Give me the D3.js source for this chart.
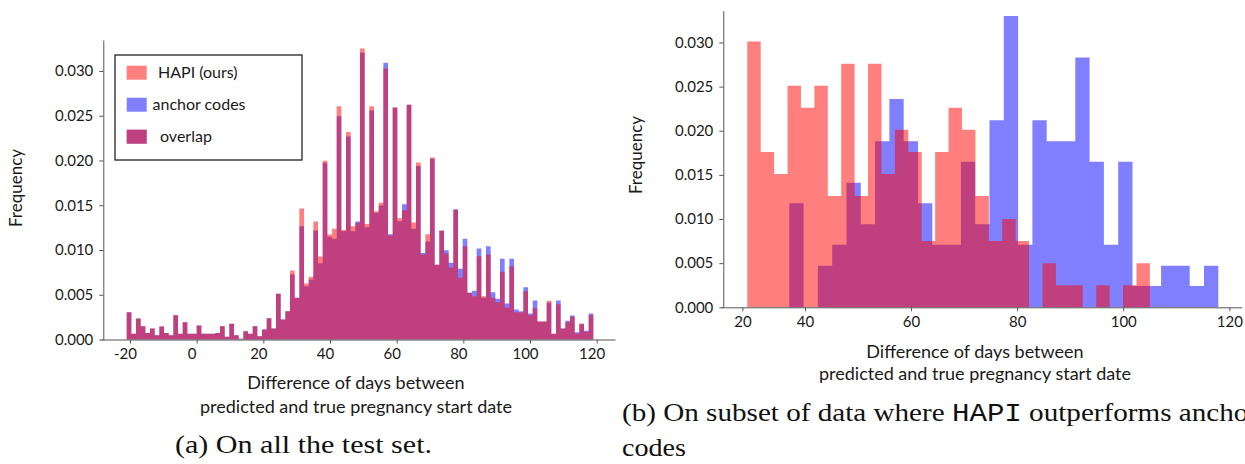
<!DOCTYPE html>
<html><head><meta charset="utf-8">
<script src="https://cdn.jsdelivr.net/npm/d3@7"></script>
<style>
body{margin:0;background:#fff;}
svg{display:block;}
.sans text, text.sans{font-family:Lato,"Open Sans",sans-serif;fill:#1a1a1a;}
.cap{font-family:"Liberation Serif","DejaVu Serif",serif;fill:#111;}
.mono{font-family:"Liberation Mono","DejaVu Sans Mono",monospace;}
</style></head><body>
<svg id="chart" width="1245" height="464"></svg>
<script>
// ---------------- DATA (frequencies in thousandths) ----------------
// Panel (a): 100 bins of 1.4 days starting at -21
const binStartA = -21, binWidthA = 1.4;
const hapiA = [3.05,0.63,2.35,1.49,0.74,1.23,0.48,1.45,0.74,0.48,
  2.72,0.63,1.94,0.63,0.63,1.56,0.63,0.63,0.63,0.74,
  1.49,0.30,1.75,0.48,0.07,0.93,0.63,1.49,0.37,1.12,
  2.38,1.23,5.10,2.23,3.17,7.71,4.66,14.64,6.26,7.00,
  13.18,9.27,19.96,11.73,12.37,26.07,12.22,23.17,12.66,13.04,
  32.51,12.89,26.07,14.34,15.27,30.28,11.62,25.92,13.56,14.45,
  26.22,13.07,19.78,9.50,11.77,20.34,8.34,12.18,9.61,8.01,
  14.53,6.89,10.43,5.21,4.84,9.31,4.84,9.50,4.66,4.17,
  7.56,3.54,8.19,3.05,3.05,5.40,2.72,3.50,2.05,2.05,
  4.32,0.63,3.95,1.23,1.94,2.53,0.67,1.79,0.86,2.72];
const anchorA = [3.05,0.63,2.35,1.49,0.74,1.23,0.48,1.45,0.74,0.48,
  2.72,0.63,1.94,0.63,0.63,1.56,0.63,0.63,0.63,0.74,
  1.49,0.30,1.75,0.48,0.07,0.93,0.63,1.49,0.37,1.12,
  2.38,1.23,5.10,2.23,3.17,7.26,4.66,12.66,5.96,6.70,
  12.18,8.53,19.74,11.47,11.25,24.95,12.10,22.68,12.10,13.18,
  32.03,12.55,25.59,14.15,14.97,30.91,11.77,25.92,13.22,15.12,
  26.22,12.37,19.37,9.65,10.95,20.19,8.34,12.14,9.98,8.57,
  14.53,7.90,11.25,5.21,5.44,10.17,4.66,10.43,5.29,4.54,
  9.01,4.02,9.01,3.35,3.17,5.85,2.91,4.36,1.97,1.97,
  4.10,0.63,4.36,1.23,2.09,2.68,0.82,1.71,0.97,2.91];

// Panel (b): 30 bins per series
const binStartHapiB = 29.12, binWidthHapiB = 2.53;
const hapiB = [30.1,17.6,15.1,25.1,22.6,25.1,12.6,27.6,12.6,27.6,
  15.1,20.1,17.6,7.5,17.6,22.6,20.1,12.6,7.5,10.0,
  7.5,0,5.0,2.5,2.5,0,2.5,0,2.5,5.0];
const binStartAnchorB = 37.04, binWidthAnchorB = 2.696;
const anchorB = [11.8,0,4.7,7.1,14.1,9.4,18.8,23.6,18.8,11.8,
  7.1,7.1,16.5,9.4,21.2,33.0,7.1,21.2,18.8,18.8,
  28.3,16.5,7.1,16.5,2.4,2.4,4.7,4.7,2.4,4.7];

const yTickValues = [0,5,10,15,20,25,30];
const yTickLabels = ["0.000","0.005","0.010","0.015","0.020","0.025","0.030"];
const xTickValuesA = [-20,0,20,40,60,80,100,120];
const xTickLabelsA = ["-20","0","20","40","60","80","100","120"];
const xTickValuesB = [28.2,40,60,80,100,120];
const xTickLabelsB = ["20","40","60","80","100","120"];
const legendLabels = ["HAPI (ours)","anchor codes","overlap"];
const xTitle = ["Difference of days between","predicted and true pregnancy start date"];
const yTitle = "Frequency";

// ---------------- STYLE ----------------
const RED = "#ff0000", BLUE = "#0000ff", ALPHA = 0.5, AXIS = "#555";

const svg = d3.select("#chart");

function stepArea(x, y, start, width, vals){
  const pts = vals.map((v,i)=>[start+i*width, v]);
  pts.push([start+vals.length*width, vals[vals.length-1]]);
  return d3.area().x(d=>x(d[0])).y0(y(0)).y1(d=>y(d[1])).curve(d3.curveStepAfter)(pts);
}

function panel(opt){
  const g = svg.append("g").attr("class","sans");
  const {x,y} = opt;
  g.append("path").attr("d", stepArea(x,y,opt.aStart,opt.aWidth,opt.anchor))
    .attr("fill",BLUE).attr("fill-opacity",ALPHA);
  g.append("path").attr("d", stepArea(x,y,opt.hStart,opt.hWidth,opt.hapi))
    .attr("fill",RED).attr("fill-opacity",ALPHA);

  const ya = g.append("g").attr("transform",`translate(${x.range()[0]+opt.yAxisShift},0)`)
    .call(d3.axisLeft(y).tickValues(yTickValues).tickFormat((d,i)=>yTickLabels[i])
      .tickSize(4).tickSizeOuter(0).tickPadding(6));
  const xa = g.append("g").attr("transform",`translate(0,${y.range()[0]})`)
    .call(d3.axisBottom(x).tickValues(opt.xTicks).tickFormat((d,i)=>opt.xLabels[i])
      .tickSize(4).tickSizeOuter(0).tickPadding(5));
  [ya,xa].forEach(a=>{
    a.selectAll("path,line").attr("stroke",AXIS);
    a.selectAll("text").attr("font-size",15).attr("fill","#1a1a1a")
      .attr("font-family","Lato,'Open Sans',sans-serif");
  });
  xa.selectAll("text").attr("dx",opt.xLabelDx);

  const tt = g.append("text").attr("text-anchor","middle").attr("font-size",18);
  xTitle.forEach((t,i)=>tt.append("tspan").attr("x",opt.titleX).attr("y",opt.titleY+i*opt.titleGap).text(t));
  g.append("text").attr("text-anchor","middle").attr("font-size",17)
    .attr("transform",`translate(${opt.yTitleX},${opt.yTitleY}) rotate(-90)`).text(yTitle);
  return g;
}

// Panel (a)
const xA = d3.scaleLinear().domain([-28.5,125.5]).range([101.7,615]);
const yA = d3.scaleLinear().domain([0,33.46]).range([339.5,40]);
const gA = panel({x:xA,y:yA,hapi:hapiA,anchor:anchorA,hStart:binStartA,hWidth:binWidthA,
  aStart:binStartA,aWidth:binWidthA,xTicks:xTickValuesA,xLabels:xTickLabelsA,xLabelDx:-5,
  yAxisShift:1.6,titleX:356,titleY:389,titleGap:24,yTitleX:22,yTitleY:188});

// Legend (a)
const lg = gA.append("g");
lg.append("rect").attr("x",115).attr("y",55).attr("width",187).attr("height",105)
  .attr("fill","#fff").attr("stroke","#222").attr("stroke-width",1.3);
const legTextX = [158,152.5,160];
legendLabels.forEach((lab,i)=>{
  const cy = 72.7 + i*32;
  const sw = lg.append("g");
  if(i!==0) sw.append("rect").attr("x",126.7).attr("y",cy-7).attr("width",20).attr("height",14).attr("fill",BLUE).attr("fill-opacity",ALPHA);
  if(i!==1) sw.append("rect").attr("x",126.7).attr("y",cy-7).attr("width",20).attr("height",14).attr("fill",RED).attr("fill-opacity",ALPHA);
  lg.append("text").attr("x",legTextX[i]).attr("y",cy).attr("dy","0.35em").attr("font-size",16).text(lab);
});

// Panel (b)
const xB = d3.scaleLinear().domain([24.3,122.33]).range([721.7,1241.7]);
const yB = d3.scaleLinear().domain([0,33.6]).range([307.3,10.7]);
panel({x:xB,y:yB,hapi:hapiB,anchor:anchorB,hStart:binStartHapiB,hWidth:binWidthHapiB,
  aStart:binStartAnchorB,aWidth:binWidthAnchorB,xTicks:xTickValuesB,xLabels:xTickLabelsB,xLabelDx:0,
  yAxisShift:1.6,titleX:975,titleY:358,titleGap:22,yTitleX:642,yTitleY:155});

// Captions
svg.append("text").attr("class","cap").attr("x",175).attr("y",453).attr("font-size",25)
  .attr("textLength",257).attr("lengthAdjust","spacingAndGlyphs")
  .text("(a) On all the test set.");
const l1 = svg.append("text").attr("class","cap").attr("x",622).attr("y",421).attr("font-size",25)
  .attr("textLength",636).attr("lengthAdjust","spacingAndGlyphs");
l1.append("tspan").text("(b) On subset of data where ");
l1.append("tspan").attr("class","mono").text("HAPI");
l1.append("tspan").text(" outperforms anchor");
svg.append("text").attr("class","cap").attr("x",622).attr("y",456).attr("font-size",25)
  .attr("textLength",64).attr("lengthAdjust","spacingAndGlyphs").text("codes");
</script>
</body></html>
